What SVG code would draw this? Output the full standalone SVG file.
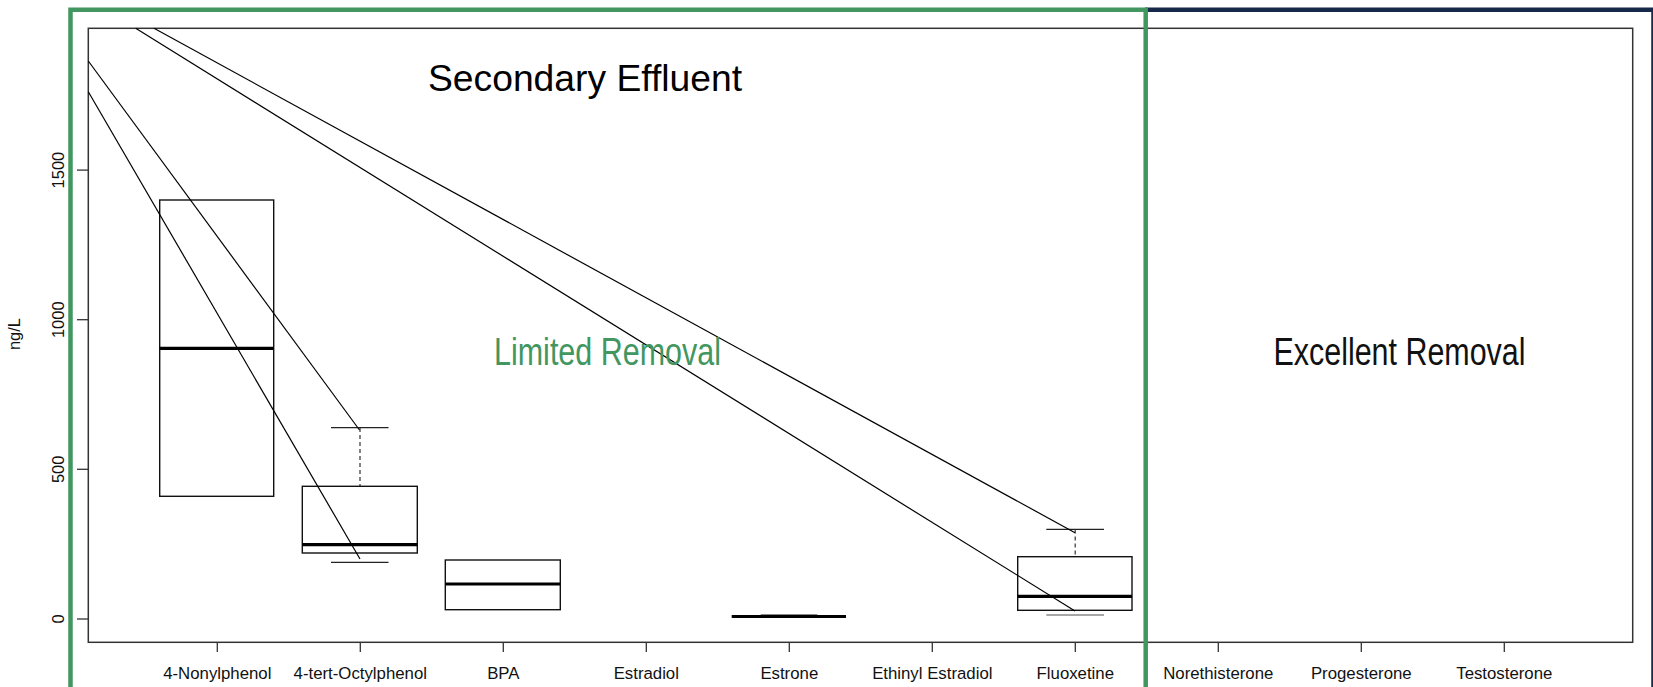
<svg xmlns="http://www.w3.org/2000/svg" width="1653" height="687" viewBox="0 0 1653 687">
<style>
  .lbl{font-family:"Liberation Sans",Arial,sans-serif;font-size:16.8px;fill:#111;text-anchor:middle}
  .ylbl{font-family:"Liberation Sans",Arial,sans-serif;font-size:16.5px;fill:#111;text-anchor:middle}
  .box{fill:none;stroke:#111;stroke-width:1.4}
  .med{stroke:#000;stroke-width:3.2}
  .cap{stroke:#222;stroke-width:1.3}
  .dash{stroke:#333;stroke-width:1.2;stroke-dasharray:4 3}
  .tick{stroke:#333;stroke-width:1.3}
  .conn{stroke:#000;stroke-width:1.2;fill:none}
</style>
<rect width="1653" height="687" fill="#fff"/>

<g id="plot-frame">
  <rect x="88.3" y="28.3" width="1544.4" height="614" fill="none" stroke="#333" stroke-width="1.5"/>
</g>

<g id="y-axis">
  <line class="tick" x1="77" y1="619" x2="88.3" y2="619"/>
  <line class="tick" x1="77" y1="469.3" x2="88.3" y2="469.3"/>
  <line class="tick" x1="77" y1="319.7" x2="88.3" y2="319.7"/>
  <line class="tick" x1="77" y1="170.1" x2="88.3" y2="170.1"/>
  <text class="ylbl" transform="translate(64,619) rotate(-90)">0</text>
  <text class="ylbl" transform="translate(64,469.3) rotate(-90)">500</text>
  <text class="ylbl" transform="translate(64,319.7) rotate(-90)">1000</text>
  <text class="ylbl" transform="translate(64,170.1) rotate(-90)">1500</text>
  <text class="ylbl" transform="translate(20,334) rotate(-90)">ng/L</text>
</g>

<g id="x-axis">
  <line class="tick" x1="217.3" y1="642.3" x2="217.3" y2="652"/>
  <line class="tick" x1="360.3" y1="642.3" x2="360.3" y2="652"/>
  <line class="tick" x1="503.3" y1="642.3" x2="503.3" y2="652"/>
  <line class="tick" x1="646.3" y1="642.3" x2="646.3" y2="652"/>
  <line class="tick" x1="789.3" y1="642.3" x2="789.3" y2="652"/>
  <line class="tick" x1="932.3" y1="642.3" x2="932.3" y2="652"/>
  <line class="tick" x1="1075.3" y1="642.3" x2="1075.3" y2="652"/>
  <line class="tick" x1="1218.3" y1="642.3" x2="1218.3" y2="652"/>
  <line class="tick" x1="1361.3" y1="642.3" x2="1361.3" y2="652"/>
  <line class="tick" x1="1504.3" y1="642.3" x2="1504.3" y2="652"/>
  <text class="lbl" x="217.3" y="679">4-Nonylphenol</text>
  <text class="lbl" x="360.3" y="679">4-tert-Octylphenol</text>
  <text class="lbl" x="503.3" y="679">BPA</text>
  <text class="lbl" x="646.3" y="679">Estradiol</text>
  <text class="lbl" x="789.3" y="679">Estrone</text>
  <text class="lbl" x="932.3" y="679">Ethinyl Estradiol</text>
  <text class="lbl" x="1075.3" y="679">Fluoxetine</text>
  <text class="lbl" x="1218.3" y="679">Norethisterone</text>
  <text class="lbl" x="1361.3" y="679">Progesterone</text>
  <text class="lbl" x="1504.3" y="679">Testosterone</text>
</g>

<g id="box-nonylphenol">
  <rect class="box" x="159.7" y="200" width="114" height="296.3"/>
  <line class="med" x1="159.7" y1="348.3" x2="273.7" y2="348.3"/>
</g>

<g id="box-octylphenol">
  <line class="cap" x1="331" y1="427.7" x2="388.5" y2="427.7"/>
  <line class="dash" x1="360" y1="428" x2="360" y2="486.3"/>
  <rect class="box" x="302.3" y="486.3" width="115" height="66.7"/>
  <line class="med" x1="302.3" y1="544.7" x2="417.3" y2="544.7"/>
  <line class="cap" x1="331" y1="562.3" x2="388.5" y2="562.3"/>
</g>

<g id="box-bpa">
  <rect class="box" x="445.3" y="560" width="115" height="49.7"/>
  <line class="med" x1="445.3" y1="584" x2="560.3" y2="584"/>
</g>

<g id="box-estrone">
  <line stroke="#888" stroke-width="1.2" x1="760.7" y1="614.5" x2="817.3" y2="614.5"/>
  <line class="med" x1="731.7" y1="616.5" x2="846" y2="616.5"/>
</g>

<g id="box-fluoxetine">
  <line class="cap" x1="1046.3" y1="529.3" x2="1104" y2="529.3"/>
  <line class="dash" x1="1075.2" y1="529.5" x2="1075.2" y2="556.7"/>
  <rect class="box" x="1017.7" y="556.7" width="114.3" height="53.6"/>
  <line class="med" x1="1017.7" y1="596.3" x2="1132" y2="596.3"/>
  <line stroke="#888" stroke-width="1.4" x1="1046.3" y1="615" x2="1104" y2="615"/>
</g>

<g id="connectors">
  <line class="conn" x1="88.3" y1="61" x2="359.5" y2="430"/>
  <line class="conn" x1="88.3" y1="91.7" x2="360" y2="559"/>
  <line class="conn" x1="135.7" y1="28.3" x2="1075" y2="611"/>
  <line class="conn" x1="154" y1="28.3" x2="1075" y2="532.7"/>
</g>

<g id="titles">
  <text x="428" y="90.7" font-family="Liberation Sans, Arial, sans-serif" font-size="37" fill="#000" textLength="314" lengthAdjust="spacingAndGlyphs">Secondary Effluent</text>
  <text x="494" y="364.8" font-family="Liberation Sans Narrow, Liberation Sans, Arial, sans-serif" font-size="38" fill="#42965f" textLength="227" lengthAdjust="spacingAndGlyphs">Limited Removal</text>
  <text x="1273.5" y="364.8" font-family="Liberation Sans Narrow, Liberation Sans, Arial, sans-serif" font-size="38" fill="#111" textLength="252" lengthAdjust="spacingAndGlyphs">Excellent Removal</text>
</g>

<g id="region-borders">
  <path d="M1145,9.7 H1653.5 V700" fill="none" stroke="#17294a" stroke-width="4.5"/>
  <path d="M70.5,700 V9.7 H1145.7 V700" fill="none" stroke="#42965f" stroke-width="4.5"/>
</g>
</svg>
